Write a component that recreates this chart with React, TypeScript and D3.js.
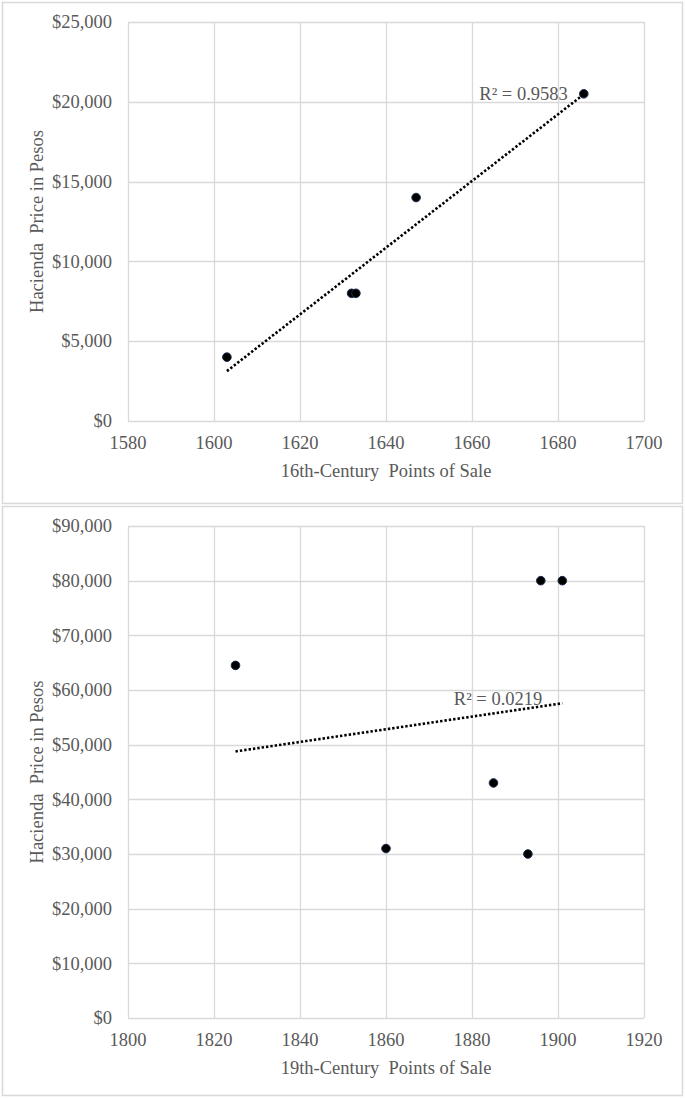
import React from "react";
import * as d3 from "d3";

// ---------- data ----------
const saleYears16 = [1603, 1632, 1633, 1647, 1686];
const prices16 = [4000, 8000, 8000, 14000, 20500];
const xTicks16 = [1580, 1600, 1620, 1640, 1660, 1680, 1700];
const yTicks16 = [0, 5000, 10000, 15000, 20000, 25000];
const r2Label16 = "R² = 0.9583";
const xTitle16 = "16th-Century  Points of Sale";

const saleYears19 = [1825, 1860, 1885, 1893, 1896, 1901];
const prices19 = [64500, 31000, 43000, 30000, 80000, 80000];
const xTicks19 = [1800, 1820, 1840, 1860, 1880, 1900, 1920];
const yTicks19 = [0, 10000, 20000, 30000, 40000, 50000, 60000, 70000, 80000, 90000];
const r2Label19 = "R² = 0.0219";
const xTitle19 = "19th-Century  Points of Sale";

const yTitle = "Hacienda  Price in Pesos";

// ---------- styling ----------
const FONT = "'Liberation Serif', 'Times New Roman', serif";
const TEXT = "#595959";
const GRID = "#d9d9d9";
const FS = 18.5;

const fmt = d3.format("$,");

function regress(xs: number[], ys: number[]) {
  const mx = d3.mean(xs)!;
  const my = d3.mean(ys)!;
  let sxy = 0,
    sxx = 0;
  xs.forEach((x, i) => {
    sxy += (x - mx) * (ys[i] - my);
    sxx += (x - mx) * (x - mx);
  });
  const slope = sxy / sxx;
  const intercept = my - slope * mx;
  return (x: number) => intercept + slope * x;
}

type ChartProps = {
  panelY: number;
  panelH: number;
  plotTop: number;
  plotBottom: number;
  xs: number[];
  ys: number[];
  xTicks: number[];
  yTicks: number[];
  xTitle: string;
  r2: string;
  r2dx: number;
  r2dy: number;
};

function Chart(p: ChartProps) {
  const left = 128;
  const right = 644;
  const x = d3
    .scaleLinear()
    .domain([p.xTicks[0], p.xTicks[p.xTicks.length - 1]])
    .range([left, right]);
  const y = d3
    .scaleLinear()
    .domain([p.yTicks[0], p.yTicks[p.yTicks.length - 1]])
    .range([p.plotBottom, p.plotTop]);
  const f = regress(p.xs, p.ys);
  const [x0, x1] = d3.extent(p.xs) as [number, number];
  const line = d3
    .line<number>()
    .x((d) => x(d))
    .y((d) => y(f(d)));
  const midY = (p.plotTop + p.plotBottom) / 2;
  return (
    <g>
      <rect
        x={2.5}
        y={p.panelY + 0.5}
        width={680}
        height={p.panelH}
        fill="#fff"
        stroke={GRID}
        strokeWidth={1.5}
      />
      {p.yTicks.map((t) => (
        <line
          key={"hy" + t}
          x1={left}
          x2={right}
          y1={Math.round(y(t)) + 0.5}
          y2={Math.round(y(t)) + 0.5}
          stroke={GRID}
          strokeWidth={1.3}
        />
      ))}
      {p.xTicks.map((t) => (
        <line
          key={"vx" + t}
          x1={Math.round(x(t)) + 0.5}
          x2={Math.round(x(t)) + 0.5}
          y1={p.plotTop}
          y2={p.plotBottom}
          stroke={GRID}
          strokeWidth={1.3}
        />
      ))}
      {p.yTicks.map((t) => (
        <text
          key={"ty" + t}
          x={112}
          y={y(t)}
          dy="0.34em"
          textAnchor="end"
          fontFamily={FONT}
          fontSize={FS}
          fill={TEXT}
        >
          {fmt(t)}
        </text>
      ))}
      {p.xTicks.map((t) => (
        <text
          key={"tx" + t}
          x={x(t)}
          y={p.plotBottom + 28}
          textAnchor="middle"
          fontFamily={FONT}
          fontSize={FS}
          fill={TEXT}
        >
          {t}
        </text>
      ))}
      <text
        x={(left + right) / 2}
        y={p.plotBottom + 56}
        textAnchor="middle"
        fontFamily={FONT}
        fontSize={FS}
        fill={TEXT}
        style={{ whiteSpace: "pre" }}
      >
        {p.xTitle}
      </text>
      <text
        transform={`translate(43,${midY}) rotate(-90)`}
        textAnchor="middle"
        fontFamily={FONT}
        fontSize={FS}
        fill={TEXT}
        style={{ whiteSpace: "pre" }}
      >
        {yTitle}
      </text>
      <path
        d={line([x0, x1]) || ""}
        fill="none"
        stroke="#000"
        strokeWidth={2.6}
        strokeDasharray="2.4 2"
      />
      <text
        x={x(x1) + p.r2dx}
        y={y(f(x1)) + p.r2dy}
        textAnchor="end"
        fontFamily={FONT}
        fontSize={FS}
        fill={TEXT}
      >
        {p.r2}
      </text>
      {p.xs.map((d, i) => (
        <circle
          key={"pt" + i}
          cx={x(d)}
          cy={y(p.ys[i])}
          r={4.3}
          fill="#000"
          stroke="#1c2b4a"
          strokeWidth={1}
        />
      ))}
    </g>
  );
}

export default function App() {
  return (
    <svg
      width={685}
      height={1098}
      style={{ position: "absolute", left: 0, top: 0, background: "#fff" }}
    >
      <rect x={0} y={0} width={685} height={1098} fill="#fff" />
      <Chart
        panelY={2}
        panelH={501}
        plotTop={22}
        plotBottom={421}
        xs={saleYears16}
        ys={prices16}
        xTicks={xTicks16}
        yTicks={yTicks16}
        xTitle={xTitle16}
        r2={r2Label16}
        r2dx={-16}
        r2dy={6}
      />
      <Chart
        panelY={506}
        panelH={589}
        plotTop={526}
        plotBottom={1018}
        xs={saleYears19}
        ys={prices19}
        xTicks={xTicks19}
        yTicks={yTicks19}
        xTitle={xTitle19}
        r2={r2Label19}
        r2dx={-20}
        r2dy={2}
      />
    </svg>
  );
}
